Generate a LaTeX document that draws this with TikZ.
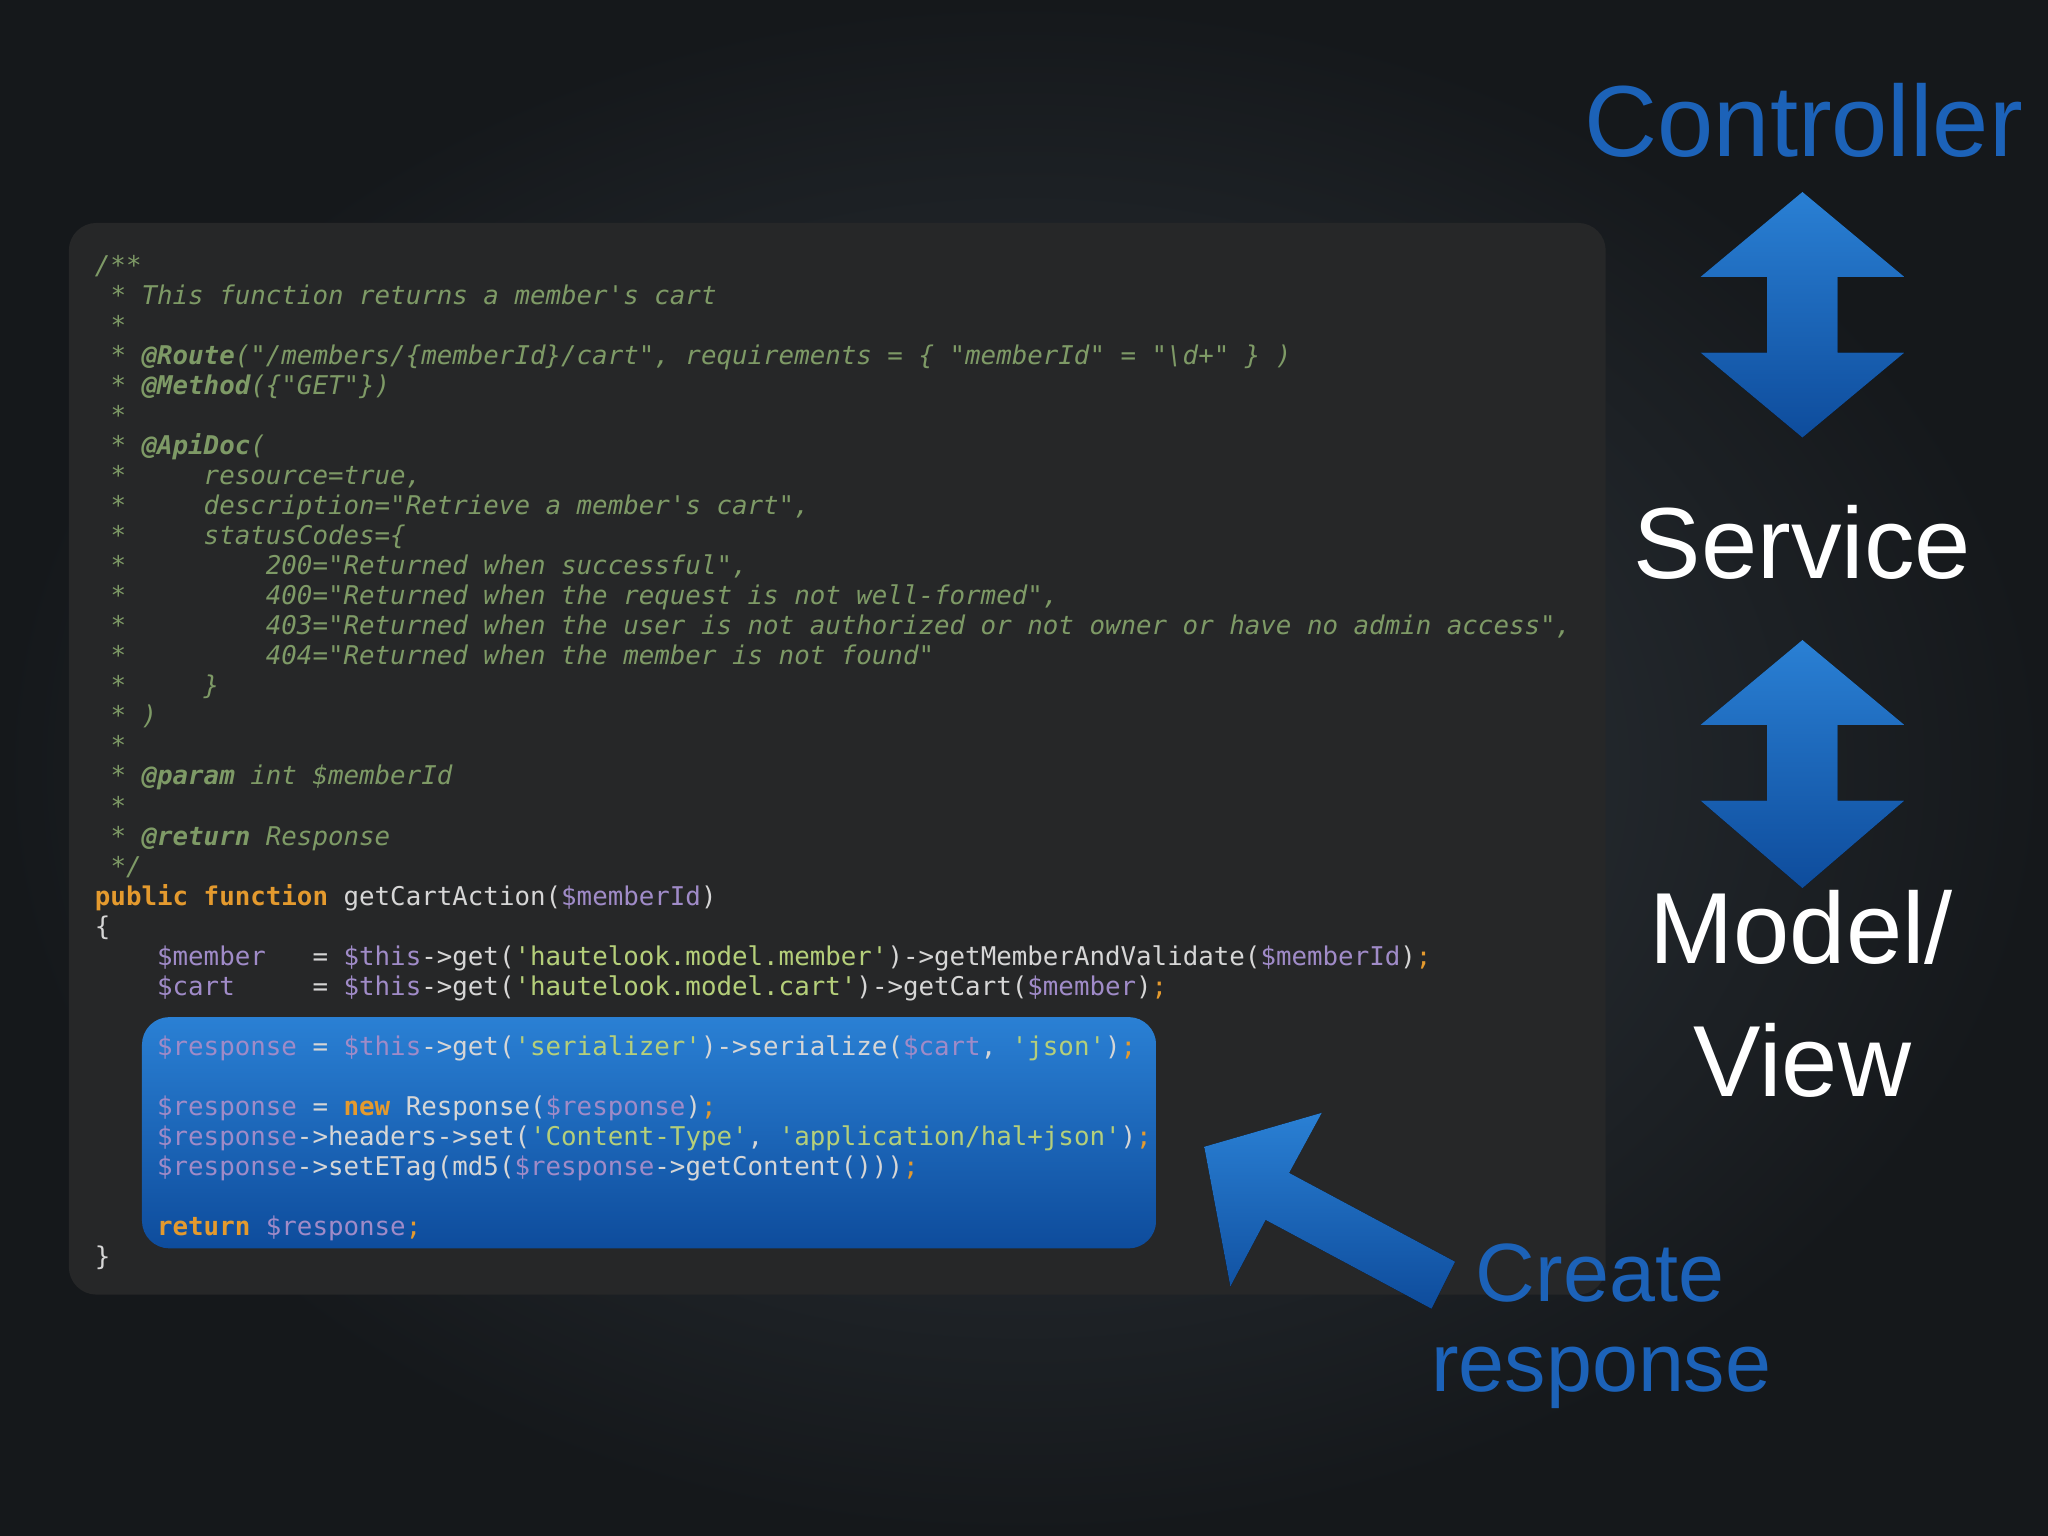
\documentclass[tikz,border=0pt]{standalone}
\usepackage{fontspec}
\setmainfont{Liberation Sans}
\newfontfamily\codefont{DejaVu Sans Mono}
\usetikzlibrary{shadings}
\definecolor{bgA}{HTML}{323940}
\definecolor{bgB}{HTML}{15181B}
\definecolor{boxc}{HTML}{262728}
\definecolor{cmc}{HTML}{7E9A66}
\definecolor{kwc}{HTML}{E49A2E}
\definecolor{vrc}{HTML}{A08BC8}
\definecolor{stc}{HTML}{B5CF7A}
\definecolor{plc}{HTML}{D6D6D6}
\definecolor{blueT}{HTML}{2A80D4}
\definecolor{blueB}{HTML}{0E4C9C}
\definecolor{labblue}{HTML}{1C62B8}
\newcommand{\xcm}[1]{{\color{cmc}\itshape #1}}
\newcommand{\xan}[1]{{\color{cmc}\bfseries\itshape #1}}
\newcommand{\xkw}[1]{{\color{kwc}\bfseries #1}}
\newcommand{\xvr}[1]{{\color{vrc}#1}}
\newcommand{\xst}[1]{{\color{stc}#1}}
\newcommand{\xsemi}{{\color{kwc};}}
\begin{document}
\begin{tikzpicture}[x=0.01cm,y=-0.01cm,
  cl/.style={anchor=base west,inner sep=0pt,font=\codefont\fontsize{5.62pt}{6pt}\selectfont,text=plc},
  big/.style={font=\fontsize{22pt}{24pt}\selectfont,inner sep=0pt},
  mid/.style={font=\fontsize{18pt}{20pt}\selectfont,inner sep=0pt},
  arr/.style={top color=blueT,bottom color=blueB,draw=none}]
\shade[inner color=bgA,outer color=bgB] (0,0) rectangle (1568,1176);
\node[draw=none,fill=boxc,rounded corners=6pt,minimum width=11.76cm,minimum height=8.2cm,anchor=north west,inner sep=0pt] (box) at (52,170) {};
\node[arr,rounded corners=6pt,minimum width=7.76cm,minimum height=1.77cm,anchor=north west,inner sep=0pt] (hl) at (108,778) {};
\foreach \y/\t [count=\i] in {
204/{\xcm{/**}},
227/{\xcm{~* This function returns a member's cart}},
250/{\xcm{~*}},
273/{\xcm{~* }\xan{@Route}\xcm{("/members/\{memberId\}/cart", requirements = \{ "memberId" = "\textbackslash d+" \} )}},
296/{\xcm{~* }\xan{@Method}\xcm{(\{"GET"\})}},
319/{\xcm{~*}},
342/{\xcm{~* }\xan{@ApiDoc}\xcm{(}},
365/{\xcm{~*~~~~~resource=true,}},
388/{\xcm{~*~~~~~description="Retrieve a member's cart",}},
411/{\xcm{~*~~~~~statusCodes=\{}},
434/{\xcm{~*~~~~~~~~~200="Returned when successful",}},
457/{\xcm{~*~~~~~~~~~400="Returned when the request is not well-formed",}},
480/{\xcm{~*~~~~~~~~~403="Returned when the user is not authorized or not owner or have no admin access",}},
503/{\xcm{~*~~~~~~~~~404="Returned when the member is not found"}},
526/{\xcm{~*~~~~~\}}},
549/{\xcm{~* )}},
572/{\xcm{~*}},
595/{\xcm{~* }\xan{@param}\xcm{ int \$memberId}},
618/{\xcm{~*}},
641/{\xcm{~* }\xan{@return}\xcm{ Response}},
664/{\xcm{~*/}},
687/{\xkw{public function} getCartAction(\xvr{\$memberId})},
710/{\{},
733/{~~~~\xvr{\$member}~~~=~\xvr{\$this}->get(\xst{'hautelook.model.member'})->getMemberAndValidate(\xvr{\$memberId})\xsemi},
756/{~~~~\xvr{\$cart}~~~~~=~\xvr{\$this}->get(\xst{'hautelook.model.cart'})->getCart(\xvr{\$member})\xsemi},
802/{~~~~\xvr{\$response} = \xvr{\$this}->get(\xst{'serializer'})->serialize(\xvr{\$cart}, \xst{'json'})\xsemi},
848/{~~~~\xvr{\$response} = \xkw{new} Response(\xvr{\$response})\xsemi},
871/{~~~~\xvr{\$response}->headers->set(\xst{'Content-Type'}, \xst{'application/hal+json'})\xsemi},
894/{~~~~\xvr{\$response}->setETag(md5(\xvr{\$response}->getContent()))\xsemi},
940/{~~~~\xkw{return} \xvr{\$response}\xsemi},
963/{\}}}
  \node[cl] (L\i) at (72,\y+6) {\t};
% double arrows
\foreach \a/\b/\c/\d [count=\k] in {147/212/270/335,490/555/613/680}
  \fill[arr] (1380,\a) -- (1458,\b) -- (1407,\b) -- (1407,\c) -- (1458,\c) -- (1380,\d) -- (1302,\c) -- (1353,\c) -- (1353,\b) -- (1302,\b) -- cycle;
% diagonal arrow
\fill[arr] (922,878) -- (1012,852) -- (987,898) -- (1114,966) -- (1096,1002) -- (969,934) -- (942,985) -- cycle;
\node[big,text=labblue] (ctrl) at (1381,92) {Controller};
\node[big,text=white] (serv) at (1380,415) {Service};
\node[big,text=white] (model) at (1379,710) {Model/};
\node[big,text=white] (view) at (1380,812) {View};
\node[mid,text=labblue] (cr) at (1225,975) {Create};
\node[mid,text=labblue] (resp) at (1226,1055) {response};
\end{tikzpicture}
\end{document}
